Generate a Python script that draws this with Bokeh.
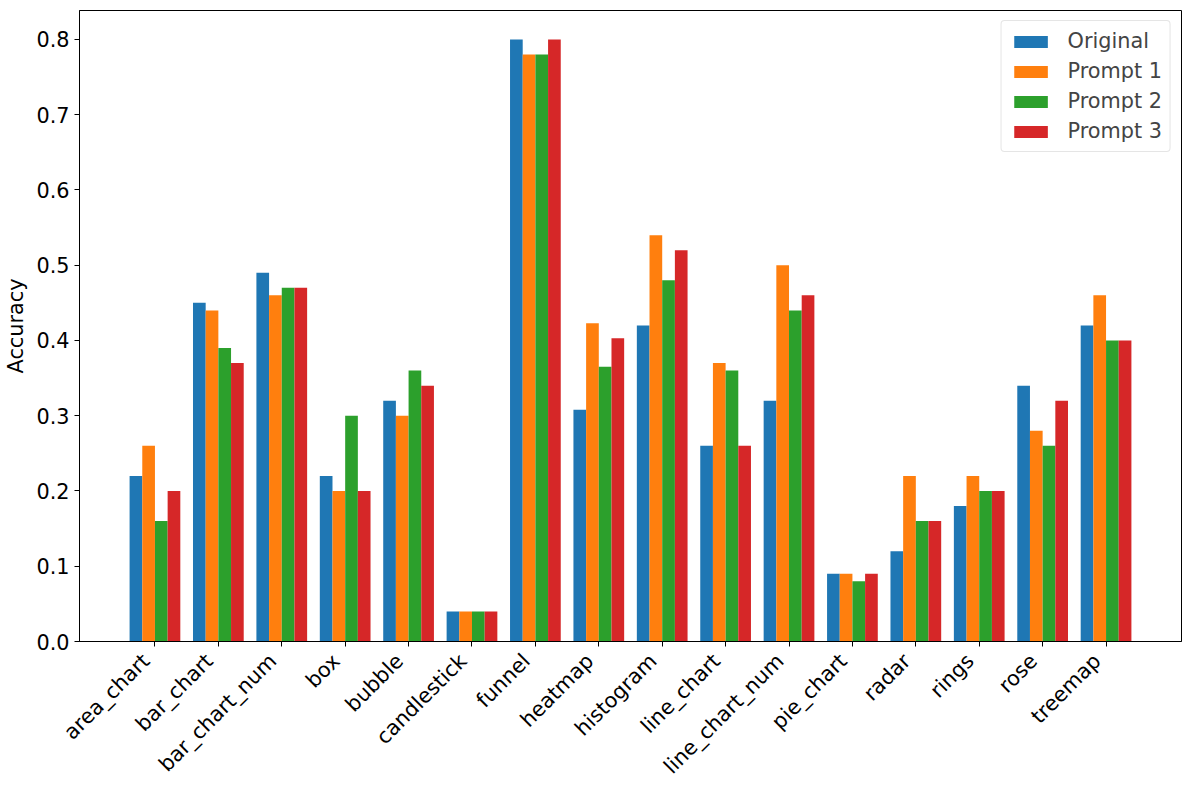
import math
from bokeh.plotting import figure
from bokeh.models import (ColumnDataSource, FixedTicker, Legend, LegendItem, Range1d,
                          PrintfTickFormatter, LinearAxis)
from bokeh.embed import file_html
from bokeh.resources import INLINE

categories = ["area_chart", "bar_chart", "bar_chart_num", "box", "bubble", "candlestick",
              "funnel", "heatmap", "histogram", "line_chart", "line_chart_num", "pie_chart",
              "radar", "rings", "rose", "treemap"]
original = [0.22, 0.45, 0.49, 0.22, 0.32, 0.04, 0.80, 0.308, 0.42, 0.26, 0.32, 0.09, 0.12, 0.18, 0.34, 0.42]
prompt1 = [0.26, 0.44, 0.46, 0.20, 0.30, 0.04, 0.78, 0.423, 0.54, 0.37, 0.50, 0.09, 0.22, 0.22, 0.28, 0.46]
prompt2 = [0.16, 0.39, 0.47, 0.30, 0.36, 0.04, 0.78, 0.365, 0.48, 0.36, 0.44, 0.08, 0.16, 0.20, 0.26, 0.40]
prompt3 = [0.20, 0.37, 0.47, 0.20, 0.34, 0.04, 0.80, 0.403, 0.52, 0.26, 0.46, 0.09, 0.16, 0.20, 0.32, 0.40]
series_names = ["Original", "Prompt 1", "Prompt 2", "Prompt 3"]
series_values = [original, prompt1, prompt2, prompt3]
colors = ["#1f77b4", "#ff7f0e", "#2ca02c", "#d62728"]
y_ticks = [0.0, 0.1, 0.2, 0.3, 0.4, 0.5, 0.6, 0.7, 0.8]

FONT = "DejaVu Sans"
FS = "20.8px"
bar_w = 0.2
n = len(categories)
x0, x1 = -1.19, n - 1 + 1.19
px = (x1 - x0) / 1102.0  # data units per pixel (for nudging the tick-label row)

p = figure(width=1189, height=789, output_backend="svg", toolbar_location=None,
           x_range=Range1d(x0, x1), y_range=Range1d(0, 0.8385),
           min_border_left=79, min_border_right=8, min_border_top=10, min_border_bottom=147)
p.extra_x_ranges = {"lab": Range1d(x0 + 9 * px, x1 + 9 * px)}

items = []
for i, (name, vals, col) in enumerate(zip(series_names, series_values, colors)):
    xs = [k + (i - 1.5) * bar_w for k in range(n)]
    src = ColumnDataSource(dict(x=xs, top=vals))
    r = p.vbar(x="x", top="top", bottom=0, width=bar_w, source=src,
               fill_color=col, line_color=None)
    items.append(LegendItem(label=name, renderers=[r]))

legend = Legend(items=items, location="top_right")
legend.label_text_font = FONT
legend.label_text_font_size = FS
legend.glyph_width = 42
legend.glyph_height = 15
legend.label_height = 22
legend.spacing = 6
legend.padding = 8
legend.margin = 10
legend.label_standoff = 16
legend.border_line_color = "#cccccc"
legend.border_line_width = 1
legend.border_radius = 4
legend.background_fill_alpha = 0.8
p.add_layout(legend)

p.xgrid.visible = False
p.ygrid.visible = False
p.outline_line_color = "black"
p.outline_line_width = 1

# main x axis: line and ticks only
p.xaxis.ticker = FixedTicker(ticks=list(range(n)))
p.xaxis.major_label_overrides = {k: "" for k in range(n)}
p.xaxis.major_label_text_font_size = "1px"
p.xaxis.major_label_standoff = 0
p.xaxis.minor_tick_line_color = None
p.xaxis.major_tick_in = 0
p.xaxis.major_tick_out = 5
p.xaxis.major_tick_line_color = "black"
p.xaxis.axis_line_color = "black"

# label row: category names, rotated 45 degrees
lab_axis = LinearAxis(x_range_name="lab", ticker=FixedTicker(ticks=list(range(n))))
lab_axis.major_label_overrides = {k: c for k, c in enumerate(categories)}
lab_axis.major_label_orientation = math.pi / 4
lab_axis.major_label_text_font = FONT
lab_axis.major_label_text_font_size = FS
lab_axis.major_label_text_color = "black"
lab_axis.major_label_standoff = 11
lab_axis.major_tick_in = 0
lab_axis.major_tick_out = 0
lab_axis.major_tick_line_color = None
lab_axis.minor_tick_line_color = None
lab_axis.axis_line_color = None
p.add_layout(lab_axis, "below")

p.yaxis.ticker = FixedTicker(ticks=y_ticks)
p.yaxis.formatter = PrintfTickFormatter(format="%.1f")
p.yaxis.axis_label = "Accuracy"
p.yaxis.major_label_text_font = FONT
p.yaxis.major_label_text_font_size = FS
p.yaxis.major_label_text_color = "black"
p.yaxis.minor_tick_line_color = None
p.yaxis.major_tick_in = 0
p.yaxis.major_tick_out = 5
p.yaxis.major_tick_line_color = "black"
p.yaxis.axis_line_color = "black"
p.yaxis.major_label_standoff = 5
p.yaxis.axis_label_text_font = FONT
p.yaxis.axis_label_text_font_size = FS
p.yaxis.axis_label_text_font_style = "normal"
p.yaxis.axis_label_text_color = "black"
p.yaxis.axis_label_standoff = 5

open("out.html", "w").write(file_html(p, INLINE))
